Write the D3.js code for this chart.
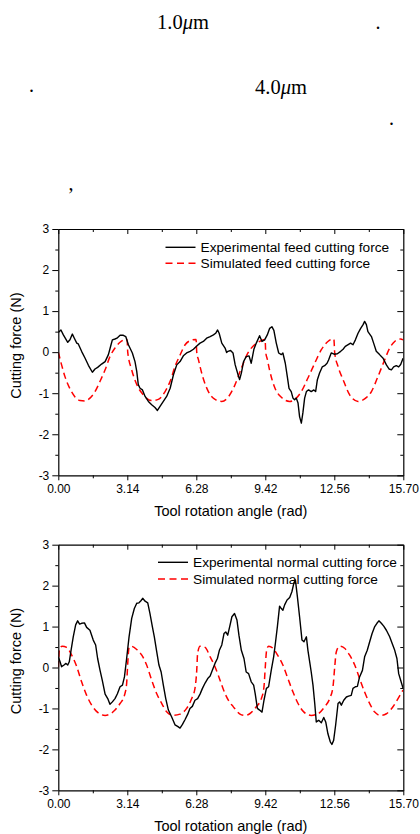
<!DOCTYPE html>
<html>
<head>
<meta charset="utf-8">
<script src="https://cdn.jsdelivr.net/npm/d3@7"></script>
<style>
  body { margin: 0; background: #fff; }
  svg { display: block; }
</style>
</head>
<body>
<div id="page"></div>
<script>
const width = 420;
const height = 834;

// axis ticks (rad / N)
const xTicks = [0, 3.14, 6.28, 9.42, 12.56, 15.70];
const xMinor = [1.57, 4.71, 7.85, 10.99, 14.13];
const yTicks = [-3, -2, -1, 0, 1, 2, 3];
const yMinor = [-2.5, -1.5, -0.5, 0.5, 1.5, 2.5];

const feedLabels = ["Experimental feed cutting force", "Simulated feed cutting force"];
const normalLabels = ["Experimental normal cutting force", "Simulated normal cutting force"];

// [angle, force]
const feedExperimental = [[0.00,0.48],[0.12,0.54],[0.23,0.42],[0.43,0.24],[0.53,0.30],[0.64,0.44],[0.73,0.34],[0.84,0.22],[0.91,0.20],[1.06,0.02],[1.22,-0.15],[1.37,-0.32],[1.55,-0.49],[1.67,-0.41],[1.79,-0.37],[1.97,-0.29],[2.13,-0.23],[2.28,-0.06],[2.40,0.18],[2.46,0.30],[2.58,0.32],[2.67,0.34],[2.81,0.41],[2.96,0.41],[3.07,0.38],[3.19,0.18],[3.37,-0.02],[3.49,-0.23],[3.57,-0.47],[3.64,-0.79],[3.72,-0.88],[3.83,-0.92],[3.95,-1.08],[4.10,-1.20],[4.25,-1.28],[4.40,-1.35],[4.51,-1.42],[4.63,-1.32],[4.78,-1.20],[4.93,-1.08],[5.09,-0.88],[5.24,-0.55],[5.39,-0.31],[5.54,-0.23],[5.69,-0.09],[5.84,-0.02],[6.00,0.02],[6.15,0.07],[6.30,0.15],[6.45,0.22],[6.60,0.26],[6.75,0.34],[6.91,0.38],[7.06,0.42],[7.16,0.46],[7.25,0.54],[7.32,0.46],[7.44,0.22],[7.59,0.10],[7.66,-0.01],[7.72,0.02],[7.84,0.04],[7.95,-0.02],[8.05,-0.31],[8.18,-0.55],[8.25,-0.67],[8.33,-0.51],[8.43,-0.23],[8.55,-0.11],[8.68,-0.09],[8.78,-0.27],[8.90,0.07],[9.01,0.22],[9.16,0.40],[9.27,0.26],[9.39,0.30],[9.51,0.42],[9.62,0.58],[9.72,0.62],[9.81,0.53],[9.92,0.22],[10.03,-0.02],[10.15,-0.06],[10.22,-0.02],[10.33,-0.27],[10.42,-0.59],[10.50,-0.88],[10.60,-0.96],[10.68,-1.12],[10.75,-1.16],[10.83,-1.12],[10.91,-1.24],[10.98,-1.57],[11.06,-1.73],[11.13,-1.48],[11.21,-1.12],[11.29,-0.96],[11.39,-0.92],[11.51,-0.96],[11.63,-0.92],[11.71,-0.96],[11.79,-0.67],[11.89,-0.51],[12.01,-0.36],[12.12,-0.33],[12.23,-0.27],[12.30,-0.19],[12.42,-0.02],[12.55,-0.05],[12.70,-0.04],[12.85,0.02],[12.96,0.07],[13.06,0.14],[13.21,0.19],[13.30,0.22],[13.41,0.18],[13.52,0.30],[13.64,0.46],[13.76,0.58],[13.87,0.67],[13.94,0.75],[14.02,0.67],[14.09,0.50],[14.25,0.38],[14.35,0.22],[14.47,0.02],[14.62,-0.06],[14.78,-0.15],[14.93,-0.31],[15.05,-0.41],[15.16,-0.43],[15.26,-0.36],[15.38,-0.33],[15.49,-0.36],[15.58,-0.30],[15.69,-0.15]];

const feedSimulated = [[0.00,0.00],[0.15,-0.31],[0.30,-0.59],[0.53,-0.89],[0.76,-1.09],[0.99,-1.18],[1.22,-1.19],[1.44,-1.12],[1.67,-0.96],[1.90,-0.71],[2.13,-0.43],[2.35,-0.11],[2.58,0.10],[2.81,0.24],[3.07,0.31],[3.13,0.31],[3.16,0.00],[3.34,-0.43],[3.57,-0.79],[3.87,-1.04],[4.25,-1.18],[4.55,-1.15],[4.86,-0.96],[5.09,-0.71],[5.31,-0.35],[5.54,-0.07],[5.77,0.18],[6.00,0.28],[6.25,0.31],[6.27,0.31],[6.30,0.00],[6.38,-0.19],[6.60,-0.65],[6.83,-0.96],[7.10,-1.14],[7.44,-1.20],[7.74,-1.09],[8.02,-0.82],[8.33,-0.39],[8.63,-0.02],[8.93,0.18],[9.24,0.28],[9.39,0.31],[9.41,0.31],[9.44,0.00],[9.51,-0.17],[9.62,-0.45],[9.84,-0.85],[10.15,-1.10],[10.53,-1.20],[10.83,-1.12],[11.06,-0.96],[11.36,-0.63],[11.67,-0.27],[11.97,0.06],[12.27,0.26],[12.50,0.32],[12.54,0.32],[12.58,-0.02],[12.73,-0.35],[12.96,-0.67],[13.26,-1.04],[13.64,-1.20],[13.94,-1.14],[14.25,-0.96],[14.55,-0.59],[14.85,-0.19],[15.08,0.10],[15.31,0.26],[15.58,0.32],[15.69,0.30]];

const normalExperimental = [[0.00,0.26],[0.08,0.14],[0.15,0.02],[0.26,0.06],[0.35,0.10],[0.43,0.06],[0.50,0.14],[0.58,0.42],[0.68,0.75],[0.79,1.04],[0.88,1.14],[0.97,1.06],[1.06,1.08],[1.19,1.09],[1.29,0.98],[1.44,0.91],[1.59,0.67],[1.70,0.55],[1.79,0.22],[1.90,-0.07],[2.00,-0.31],[2.13,-0.65],[2.25,-0.76],[2.35,-0.90],[2.46,-0.84],[2.58,-0.76],[2.69,-0.64],[2.81,-0.47],[2.92,-0.43],[3.01,-0.23],[3.11,0.22],[3.22,0.75],[3.34,1.20],[3.46,1.44],[3.57,1.57],[3.67,1.58],[3.76,1.63],[3.84,1.69],[3.95,1.62],[4.07,1.58],[4.17,1.32],[4.28,1.00],[4.37,0.75],[4.48,0.38],[4.58,0.06],[4.68,-0.11],[4.78,-0.43],[4.89,-0.76],[5.01,-1.04],[5.16,-1.21],[5.31,-1.40],[5.43,-1.44],[5.54,-1.48],[5.65,-1.39],[5.77,-1.27],[5.89,-1.14],[5.99,-1.00],[6.10,-0.95],[6.22,-0.80],[6.34,-0.76],[6.45,-0.65],[6.56,-0.51],[6.68,-0.38],[6.80,-0.27],[6.91,-0.21],[7.01,-0.07],[7.13,0.10],[7.24,0.22],[7.33,0.42],[7.44,0.55],[7.54,0.83],[7.62,0.87],[7.71,0.79],[7.80,1.00],[7.90,1.24],[8.02,1.32],[8.13,1.16],[8.22,0.79],[8.33,0.42],[8.45,0.22],[8.55,-0.11],[8.66,-0.15],[8.78,-0.35],[8.89,-0.43],[8.96,-0.64],[9.06,-1.00],[9.16,-1.04],[9.27,-1.09],[9.36,-0.80],[9.47,-0.51],[9.57,-0.47],[9.69,-0.07],[9.80,0.26],[9.87,0.55],[9.97,1.00],[10.07,1.50],[10.15,1.44],[10.22,1.40],[10.30,1.53],[10.41,1.65],[10.53,1.71],[10.63,1.85],[10.72,2.06],[10.79,2.14],[10.88,1.73],[10.98,1.24],[11.09,0.67],[11.18,0.63],[11.29,0.75],[11.36,0.42],[11.44,0.14],[11.51,-0.11],[11.59,-0.43],[11.67,-0.88],[11.74,-1.33],[11.85,-1.29],[11.97,-1.35],[12.08,-1.22],[12.17,-1.33],[12.27,-1.62],[12.38,-1.82],[12.45,-1.88],[12.53,-1.78],[12.62,-1.41],[12.73,-0.88],[12.80,-0.84],[12.88,-0.92],[12.99,-0.80],[13.11,-0.72],[13.21,-0.70],[13.33,-0.68],[13.41,-0.51],[13.52,-0.47],[13.61,-0.46],[13.71,-0.23],[13.84,-0.07],[13.94,0.26],[14.06,0.42],[14.17,0.63],[14.28,0.83],[14.40,1.00],[14.50,1.08],[14.59,1.14],[14.70,1.08],[14.81,1.01],[14.93,0.91],[15.08,0.75],[15.19,0.59],[15.31,0.42],[15.41,0.22],[15.49,-0.15],[15.58,-0.31],[15.69,-0.51]];

const normalSimulated = [[0.00,0.00],[0.06,0.47],[0.18,0.52],[0.38,0.49],[0.61,0.30],[0.84,0.02],[1.06,-0.35],[1.29,-0.68],[1.52,-0.92],[1.82,-1.11],[2.13,-1.17],[2.35,-1.14],[2.58,-1.04],[2.81,-0.88],[3.01,-0.68],[3.11,-0.39],[3.16,0.10],[3.22,0.49],[3.31,0.52],[3.57,0.44],[3.80,0.30],[4.02,0.06],[4.25,-0.31],[4.48,-0.64],[4.71,-0.88],[4.93,-1.08],[5.24,-1.17],[5.54,-1.14],[5.84,-1.00],[6.07,-0.76],[6.22,-0.51],[6.30,-0.07],[6.34,0.34],[6.45,0.52],[6.68,0.49],[6.91,0.26],[7.13,0.02],[7.36,-0.31],[7.59,-0.64],[7.80,-0.85],[7.95,-0.95],[8.25,-1.13],[8.48,-1.17],[8.71,-1.13],[9.01,-0.96],[9.24,-0.76],[9.36,-0.47],[9.42,0.02],[9.48,0.42],[9.57,0.52],[9.77,0.47],[9.98,0.30],[10.22,0.06],[10.45,-0.27],[10.68,-0.60],[10.91,-0.88],[11.18,-1.09],[11.51,-1.17],[11.82,-1.13],[12.12,-0.96],[12.35,-0.76],[12.50,-0.47],[12.58,0.02],[12.65,0.38],[12.80,0.52],[13.03,0.47],[13.26,0.30],[13.49,0.06],[13.71,-0.27],[13.94,-0.60],[14.17,-0.88],[14.40,-1.09],[14.67,-1.17],[14.93,-1.13],[15.23,-0.96],[15.46,-0.76],[15.69,-0.55]];

const svg = d3.select("#page")
    .append("svg")
    .attr("width", width)
    .attr("height", height);

svg.append("rect").attr("width", width).attr("height", height).attr("fill", "#fff");

// stray text left over from the page above the figure
const serif = "'Liberation Serif', 'Times New Roman', serif";

function measure(x, y, num) {
    const t = svg.append("text")
        .attr("x", x).attr("y", y)
        .attr("font-family", serif)
        .attr("font-size", 20.5);
    t.append("tspan").text(num);
    t.append("tspan").attr("font-style", "italic").text("\u03bc");
    t.append("tspan").text("m");
}
measure(157, 28.5, "1.0");
measure(255, 93.5, "4.0");

const marks = [[375.5, 28.5, "."], [29, 92, "."], [389, 125, "."], [68.5, 189.5, ","]];
svg.selectAll(".mark")
    .data(marks)
    .enter()
    .append("text")
    .attr("class", "mark")
    .attr("x", d => d[0])
    .attr("y", d => d[1])
    .attr("font-family", serif)
    .attr("font-size", 20)
    .text(d => d[2]);

function drawChart(top, bottom, exp, sim, labels, legend) {
    const left = 58.3, right = 403.3;
    const sans = "'Liberation Sans', Arial, sans-serif";

    const x = d3.scaleLinear().domain([0, 15.7]).range([left, right]);
    const y = d3.scaleLinear().domain([-3, 3]).range([bottom, top]);

    const g = svg.append("g");

    const clipId = "clip" + Math.round(top);
    g.append("clipPath").attr("id", clipId)
        .append("rect")
        .attr("x", left).attr("y", top)
        .attr("width", right - left).attr("height", bottom - top);

    const line = d3.line().x(d => x(d[0])).y(d => y(d[1]));

    g.append("path")
        .datum(sim)
        .attr("clip-path", "url(#" + clipId + ")")
        .attr("fill", "none")
        .attr("stroke", "#ff0000")
        .attr("stroke-width", 1.5)
        .attr("stroke-dasharray", "6.5,4")
        .attr("d", line.curve(d3.curveMonotoneX));

    g.append("path")
        .datum(exp)
        .attr("clip-path", "url(#" + clipId + ")")
        .attr("fill", "none")
        .attr("stroke", "#000")
        .attr("stroke-width", 1.4)
        .attr("stroke-linejoin", "round")
        .attr("d", line.curve(d3.curveLinear));

    // axes: outward ticks left/bottom, inward ticks top/right
    g.append("g")
        .attr("transform", "translate(0," + bottom + ")")
        .call(d3.axisBottom(x).tickValues(xTicks).tickSize(5).tickPadding(4)
            .tickSizeOuter(0).tickFormat(d3.format(".2f")));
    g.append("g")
        .attr("transform", "translate(0," + bottom + ")")
        .call(d3.axisBottom(x).tickValues(xMinor).tickSize(3).tickFormat(""))
        .select(".domain").remove();

    g.append("g")
        .attr("transform", "translate(" + left + ",0)")
        .call(d3.axisLeft(y).tickValues(yTicks).tickSize(6).tickPadding(3)
            .tickSizeOuter(0).tickFormat(d => String(d)));
    g.append("g")
        .attr("transform", "translate(" + left + ",0)")
        .call(d3.axisLeft(y).tickValues(yMinor).tickSize(3).tickFormat(""))
        .select(".domain").remove();

    g.append("g")
        .attr("transform", "translate(0," + top + ")")
        .call(d3.axisTop(x).tickValues(xTicks).tickSize(-5).tickSizeOuter(0).tickFormat(""));
    g.append("g")
        .attr("transform", "translate(0," + top + ")")
        .call(d3.axisTop(x).tickValues(xMinor).tickSize(-3).tickFormat(""))
        .select(".domain").remove();

    g.append("g")
        .attr("transform", "translate(" + right + ",0)")
        .call(d3.axisRight(y).tickValues(yTicks).tickSize(-6).tickSizeOuter(0).tickFormat(""));
    g.append("g")
        .attr("transform", "translate(" + right + ",0)")
        .call(d3.axisRight(y).tickValues(yMinor).tickSize(-3).tickFormat(""))
        .select(".domain").remove();

    g.selectAll(".domain").attr("stroke", "#000").attr("stroke-width", 1.2);
    g.selectAll(".tick line").attr("stroke", "#000").attr("stroke-width", 1);
    g.selectAll(".tick text")
        .attr("font-family", sans)
        .attr("font-size", 12)
        .attr("fill", "#000");

    // titles
    g.append("text")
        .attr("x", (left + right) / 2)
        .attr("y", bottom + 41)
        .attr("text-anchor", "middle")
        .attr("font-family", sans)
        .attr("font-size", 14.5)
        .text("Tool rotation angle (rad)");

    g.append("text")
        .attr("transform", "translate(20.5," + ((top + bottom) / 2 - 6.5) + ") rotate(-90)")
        .attr("text-anchor", "middle")
        .attr("font-family", sans)
        .attr("font-size", 14.5)
        .text("Cutting force (N)");

    // legend
    const rows = [
        {label: labels[0], color: "#000", dash: null, width: 1.4},
        {label: labels[1], color: "#ff0000", dash: "7,4.5", width: 1.5}
    ];
    rows.forEach((r, i) => {
        const ly = legend.y + i * legend.gap;
        g.append("line")
            .attr("x1", legend.x).attr("x2", legend.x + 30)
            .attr("y1", ly).attr("y2", ly)
            .attr("stroke", r.color)
            .attr("stroke-width", r.width)
            .attr("stroke-dasharray", r.dash);
        g.append("text")
            .attr("x", legend.x + 35)
            .attr("y", ly + 4.8)
            .attr("font-family", sans)
            .attr("font-size", 13.7)
            .text(r.label);
    });
}

drawChart(229, 475.3, feedExperimental, feedSimulated, feedLabels, {x: 165.5, y: 247.3, gap: 16});
drawChart(544.7, 790.3, normalExperimental, normalSimulated, normalLabels, {x: 158, y: 562.3, gap: 16.7});
</script>
</body>
</html>
